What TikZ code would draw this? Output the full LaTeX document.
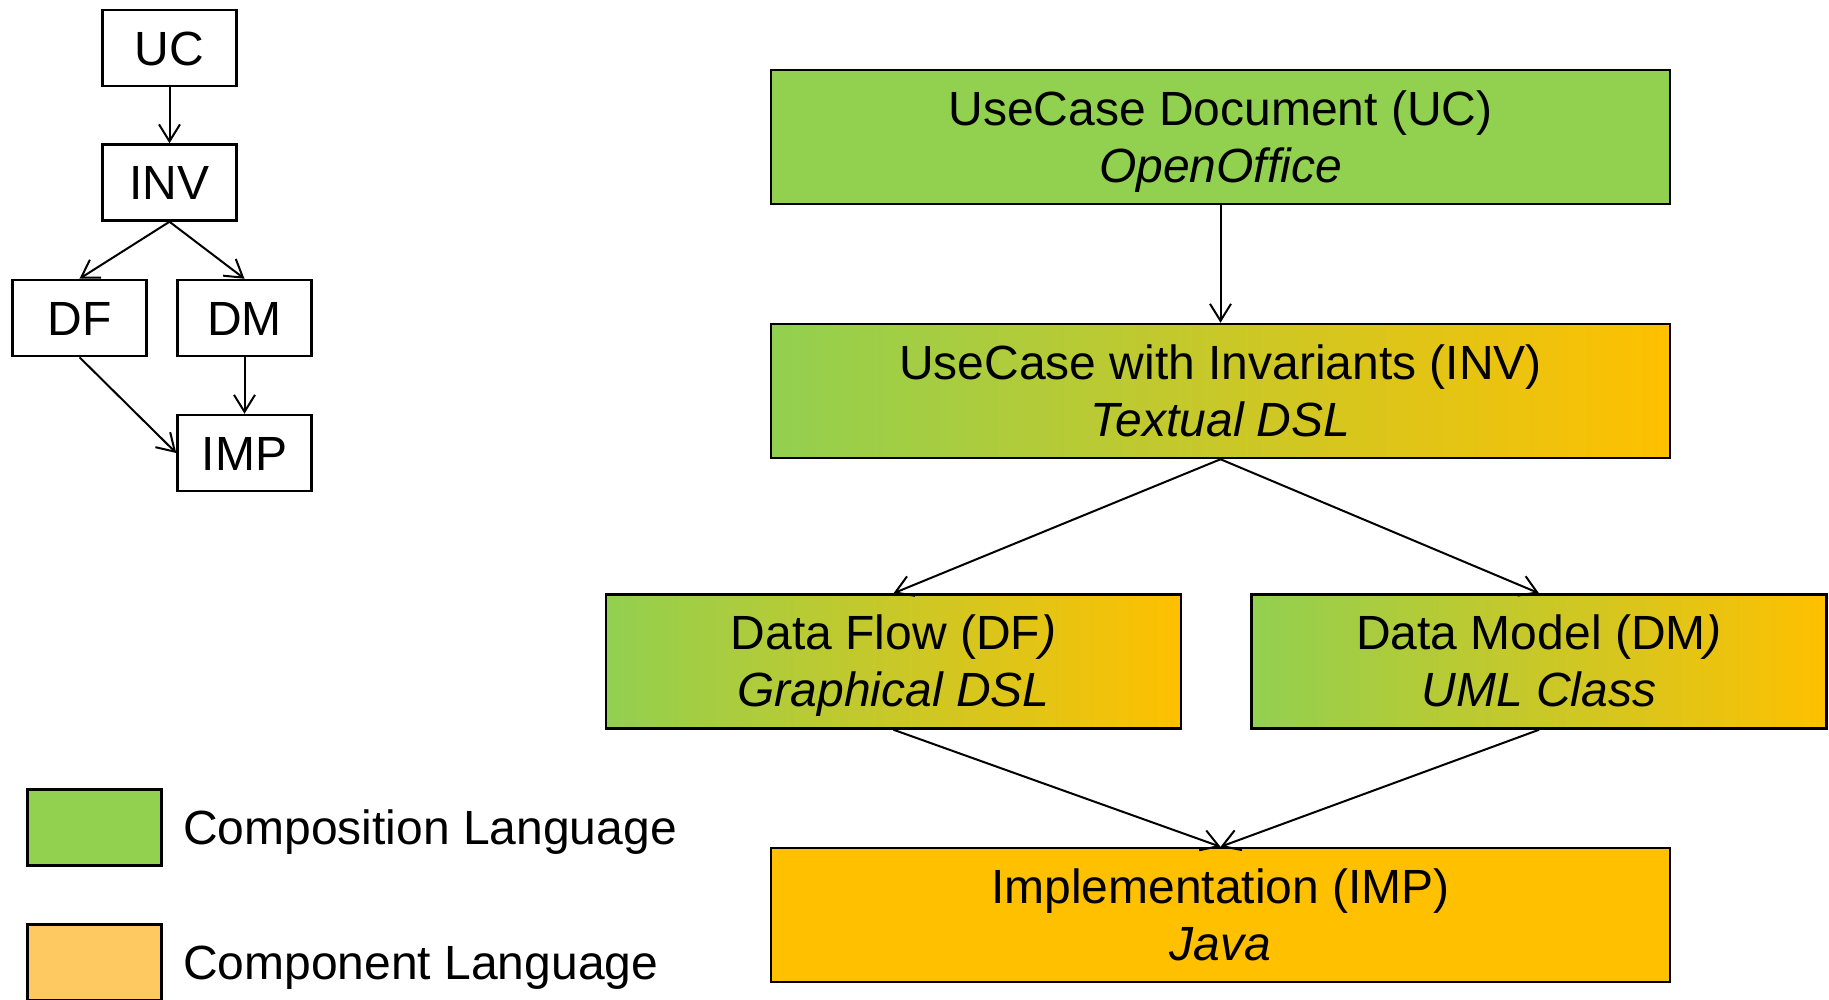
\documentclass[tikz,border=0pt]{standalone}
\usepackage{fontspec}
\setmainfont{Liberation Sans}
\usetikzlibrary{arrows.meta}
\definecolor{cgreen}{RGB}{146,208,80}
\definecolor{corange}{RGB}{255,192,0}
\definecolor{clight}{RGB}{255,201,98}
\begin{document}
\begin{tikzpicture}[x=1pt,y=-1pt,
  every node/.style={font=\fontsize{48pt}{58pt}\selectfont},
  smallbox/.style={draw, line width=2.5pt, fill=white, minimum width=134pt, minimum height=76pt, inner sep=0pt, text height=34.4pt, text depth=0pt},
  bigbox/.style={draw, line width=2.5pt, minimum height=134pt, inner sep=0pt},
  mix/.style={left color=cgreen, right color=corange},
  txt/.style={inner sep=0pt, anchor=base},
  legtxt/.style={inner sep=0pt, anchor=west, text height=34.4pt, text depth=0pt},
  arr/.style={line width=2pt, -{Straight Barb[length=17pt,width=21pt]}},
]
\useasboundingbox (0,0) rectangle (1829,999);

% small overview graph
\node[smallbox] (suc)  at (169.5,48)   {UC};
\node[smallbox] (sinv) at (169.5,182.5) {INV};
\node[smallbox] (sdf)  at (79.5,318)   {DF};
\node[smallbox] (sdm)  at (244.5,318)  {DM};
\node[smallbox] (simp) at (244.5,453)  {IMP};
\draw[arr] (suc.south) -- (sinv.north);
\draw[arr] (sinv.south) -- (sdf.north);
\draw[arr] (sinv.south) -- (sdm.north);
\draw[arr] (sdf.south) -- (simp.west);
\draw[arr] (sdm.south) -- (simp.north);

% legend
\node[smallbox, fill=cgreen, text height=0pt] (lgreen) at (94.5,827.5) {};
\node[smallbox, fill=clight, text height=0pt] (lorange) at (94.5,962.5) {};
\node[legtxt] (lgreentxt) at (183,827.5) {Composition Language};
\node[legtxt] (lorangetxt) at (183,962.5) {Component Language};

% main boxes
\node[bigbox, fill=cgreen, minimum width=899pt] (uc)  at (1220.5,137) {};
\node[bigbox, mix, minimum width=899pt] (inv) at (1220.5,391) {};
\node[bigbox, mix, minimum width=575pt] (df)  at (893.5,661.5) {};
\node[bigbox, mix, minimum width=575pt] (dm)  at (1539,661.5) {};
\node[bigbox, fill=corange, minimum width=899pt] (imp) at (1220.5,915) {};

\node[txt] (uca) at ([yshift=12pt]uc.center) {UseCase Document (UC)};
\node[txt] (ucb) at ([yshift=-45pt]uc.center) {\itshape OpenOffice};
\node[txt] (inva) at ([yshift=12pt]inv.center) {UseCase with Invariants (INV)};
\node[txt] (invb) at ([yshift=-45pt]inv.center) {\itshape Textual DSL};
\node[txt] (dfa) at ([yshift=12pt]df.center) {Data Flow (DF\textit{)}};
\node[txt] (dfb) at ([yshift=-45pt]df.center) {\itshape Graphical DSL};
\node[txt] (dma) at ([yshift=12pt]dm.center) {Data Model (DM\textit{)}};
\node[txt] (dmb) at ([yshift=-45pt]dm.center) {\itshape UML Class};
\node[txt] (impa) at ([yshift=12pt]imp.center) {Implementation (IMP)};
\node[txt] (impb) at ([yshift=-45pt]imp.center) {\itshape Java};

\draw[arr] (uc.south) -- (inv.north);
\draw[arr] (inv.south) -- (df.north);
\draw[arr] (inv.south) -- (dm.north);
\draw[arr] (df.south) -- (imp.north);
\draw[arr] (dm.south) -- (imp.north);
\end{tikzpicture}
\end{document}
